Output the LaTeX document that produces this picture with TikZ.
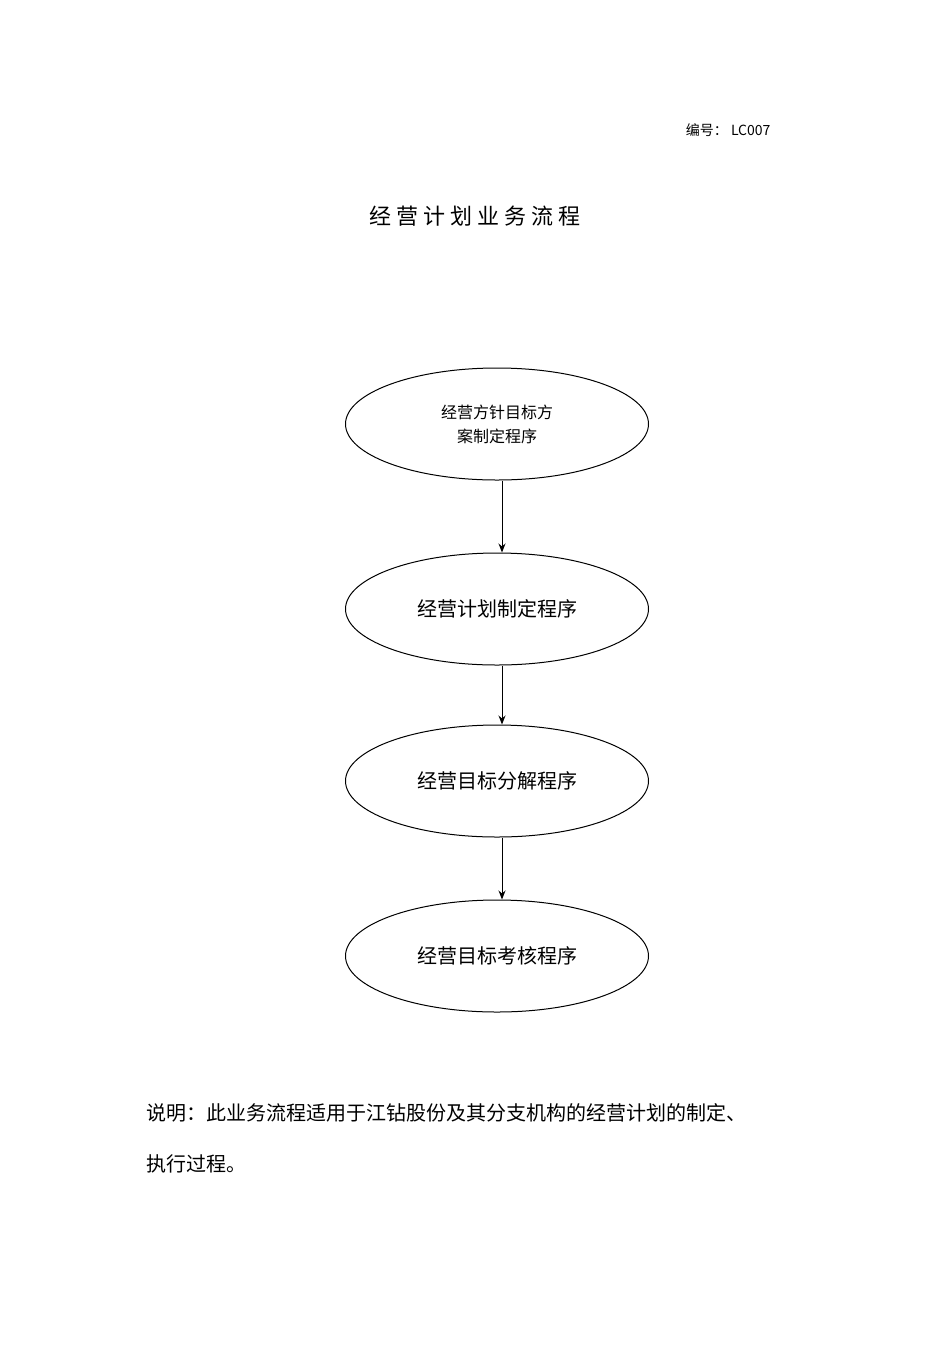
\documentclass[tikz,border=0pt]{standalone}
\usepackage{fontspec}
\newfontfamily\cjk{Noto Sans CJK SC}
\usetikzlibrary{shapes.geometric,arrows.meta}
\begin{document}
\begin{tikzpicture}[x=1pt,y=-1pt,
  proc/.style={draw,ellipse,minimum width=303pt,minimum height=112pt,line width=1pt,inner sep=0pt,align=center},
  arr/.style={-{Stealth[length=9pt,width=7pt]},line width=1pt}]
\useasboundingbox (0,0) rectangle (950,1345);
\cjk
\node[anchor=east,font=\fontsize{14}{16}\selectfont] (num) at (774,130) {编号：\ LC007};
\node[font=\fontsize{22}{26}\selectfont] (title) at (475,216) {经\ 营\ 计\ 划\ 业\ 务\ 流\ 程};
\node[proc,font=\fontsize{16}{24}\selectfont] (a) at (497,424) {经营方针目标方\\案制定程序};
\node[proc,font=\fontsize{20}{24}\selectfont] (b) at (497,609) {经营计划制定程序};
\node[proc,font=\fontsize{20}{24}\selectfont] (c) at (497,781) {经营目标分解程序};
\node[proc,font=\fontsize{20}{24}\selectfont] (d) at (497,956) {经营目标考核程序};
\draw[arr] (a.south -| 502,0) -- (b.north -| 502,0);
\draw[arr] (b.south -| 502,0) -- (c.north -| 502,0);
\draw[arr] (c.south -| 502,0) -- (d.north -| 502,0);
\node[anchor=west,font=\fontsize{20}{24}\selectfont] (n1) at (143,1113) {说明：此业务流程适用于江钻股份及其分支机构的经营计划的制定、};
\node[anchor=west,font=\fontsize{20}{24}\selectfont] (n2) at (143,1164) {执行过程。};
\end{tikzpicture}
\end{document}
